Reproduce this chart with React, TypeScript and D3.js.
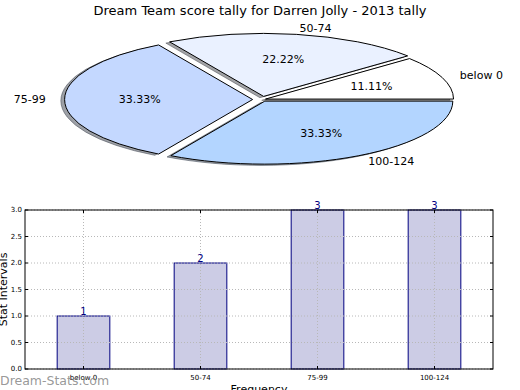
import React from "react";
import * as d3 from "d3";

const categories = ["below 0", "50-74", "75-99", "100-124"];
const counts = [1, 2, 3, 3];
const pieColors = ["#ffffff", "#eaf1ff", "#c4d8ff", "#b3d5ff"];
const explode = [0.02, 0.05, 0.05, 0.03];
const yTicks = [0, 0.5, 1.0, 1.5, 2.0, 2.5, 3.0];
const title = "Dream Team score tally for Darren Jolly - 2013 tally";

const W = 520, H = 390;
const FONT = "DejaVu Sans, sans-serif";

function shade(c: string) {
  const col = d3.rgb(c);
  return `rgba(${Math.round(col.r * 0.3)},${Math.round(col.g * 0.3)},${Math.round(col.b * 0.3)},0.5)`;
}

function Pie() {
  const cx = 262, cy = 99.5, rx = 188, ry = 63;
  const arcs = d3.pie<number>().sort(null).value((d) => d)(counts);
  const wedges = arcs.map((a, i) => {
    const t1 = a.startAngle, t2 = a.endAngle;
    const tm = (t1 + t2) / 2;
    const ox = cx + explode[i] * rx * Math.cos(tm);
    const oy = cy - explode[i] * ry * Math.sin(tm);
    const x1 = ox + rx * Math.cos(t1), y1 = oy - ry * Math.sin(t1);
    const x2 = ox + rx * Math.cos(t2), y2 = oy - ry * Math.sin(t2);
    const large = t2 - t1 > Math.PI ? 1 : 0;
    const d = `M${ox},${oy}L${x1},${y1}A${rx},${ry} 0 ${large} 0 ${x2},${y2}Z`;
    const pct = (100 * (a.value as number)) / d3.sum(counts);
    const lx = ox + 1.1 * rx * Math.cos(tm), ly = oy - 1.1 * ry * Math.sin(tm);
    const px = ox + 0.6 * rx * Math.cos(tm), py = oy - 0.6 * ry * Math.sin(tm);
    return { d, i, pct, lx, ly, px, py, anchor: Math.cos(tm) >= 0 ? "start" : "end" };
  });
  const sdx = -0.02 * rx, sdy = 0.02 * ry;
  return (
    <g>
      {wedges.map((w) => (
        <path key={"s" + w.i} d={w.d} transform={`translate(${sdx},${sdy})`}
          fill={shade(pieColors[w.i])} stroke={shade(pieColors[w.i])} strokeWidth={1} />
      ))}
      {wedges.map((w) => (
        <path key={"w" + w.i} d={w.d} fill={pieColors[w.i]} stroke="#000" strokeWidth={1} strokeLinejoin="miter" />
      ))}
      {wedges.map((w) => (
        <text key={"p" + w.i} x={w.px} y={w.py} textAnchor="middle" dominantBaseline="central"
          fontSize={11} fontFamily={FONT}>{w.pct.toFixed(2)}%</text>
      ))}
      {wedges.map((w) => (
        <text key={"l" + w.i} x={w.lx} y={w.ly} textAnchor={w.anchor} dominantBaseline="central"
          fontSize={11} fontFamily={FONT}>{categories[w.i]}</text>
      ))}
    </g>
  );
}

function Bars() {
  const left = 25, right = 493, top = 210, bottom = 369;
  const x = d3.scaleLinear().domain([-0.5, categories.length - 0.5]).range([left, right]);
  const y = d3.scaleLinear().domain([0, 3]).range([bottom, top]);
  const bw = (x(1) - x(0)) * 0.45;
  const grid = "#b8b8b8";
  return (
    <g>
      {categories.map((c, i) => (
        <rect key={"b" + i} x={x(i) - bw / 2} y={y(counts[i])} width={bw} height={y(0) - y(counts[i])}
          fill="#ccccE5" stroke="#000080" strokeWidth={1} />
      ))}
      {yTicks.map((t) => (
        <line key={"gy" + t} x1={left} x2={right} y1={y(t)} y2={y(t)} stroke={grid} strokeWidth={1} strokeDasharray="1,2" />
      ))}
      {categories.map((c, i) => (
        <line key={"gx" + i} x1={x(i)} x2={x(i)} y1={top} y2={bottom} stroke={grid} strokeWidth={1} strokeDasharray="1,2" />
      ))}
      {yTicks.map((t) => (
        <g key={"ty" + t}>
          <line x1={left} x2={left + 3} y1={y(t)} y2={y(t)} stroke="#000" />
          <line x1={right - 3} x2={right} y1={y(t)} y2={y(t)} stroke="#000" />
          <text x={left - 3} y={y(t)} textAnchor="end" dominantBaseline="central" fontSize={7} fontFamily={FONT}>{t.toFixed(1)}</text>
        </g>
      ))}
      {categories.map((c, i) => (
        <g key={"tx" + i}>
          <line x1={x(i)} x2={x(i)} y1={bottom} y2={bottom - 3} stroke="#000" />
          <line x1={x(i)} x2={x(i)} y1={top} y2={top + 3} stroke="#000" />
          <text x={x(i)} y={bottom + 9} textAnchor="middle" dominantBaseline="central" fontSize={7} fontFamily={FONT}>{c}</text>
        </g>
      ))}
      <rect x={left} y={top} width={right - left} height={bottom - top} fill="none" stroke="#000" strokeWidth={1} />
      {categories.map((c, i) => (
        <text key={"v" + i} x={x(i)} y={y(counts[i]) - 1} textAnchor="middle" fontSize={10} fill="#000080" fontFamily={FONT}>{counts[i]}</text>
      ))}
      <text transform={`translate(7,${(top + bottom) / 2}) rotate(-90)`} textAnchor="middle" fontSize={11} fontFamily={FONT}>Stat Intervals</text>
      <text x={(left + right) / 2} y={393} textAnchor="middle" fontSize={11} fontFamily={FONT}>Frequency</text>
    </g>
  );
}

export default function App() {
  return (
    <svg width={W} height={H} style={{ position: "absolute", left: 0, top: 0, background: "#fff" }}>
      <rect width={W} height={H} fill="#fff" />
      <text x={260} y={15} textAnchor="middle" fontSize={13} fontFamily={FONT}>{title}</text>
      <Pie />
      <Bars />
      <text x={0} y={385} fontSize={12.5} fill="#8c8c8c" fillOpacity={0.9} fontFamily={FONT}>Dream-Stats.com</text>
    </svg>
  );
}
